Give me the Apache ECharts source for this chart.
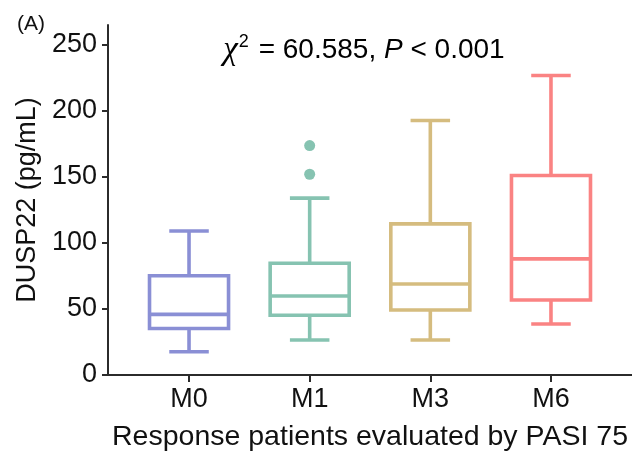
<!DOCTYPE html>
<html>
<head>
<meta charset="utf-8">
<script src="https://cdn.jsdelivr.net/npm/echarts@6/dist/echarts.min.js"></script>
<style>
  html, body { margin: 0; padding: 0; background: #fff; }
  #chart { width: 632px; height: 452px; }
</style>
</head>
<body>
<div id="chart"></div>
<script>
// Box-plot summaries of DUSP22 (pg/mL) per visit
const categories = ['M0', 'M1', 'M3', 'M6'];
const whiskerLow = [17.6, 26.5, 26.5, 38.6];
const q1 = [35.2, 45.2, 49.2, 56.8];
const median = [45.9, 59.8, 68.9, 87.9];
const q3 = [75.2, 84.6, 114.4, 151];
const whiskerHigh = [109, 133.9, 192.7, 226.8];
const outlierCats = ['M1', 'M1'];
const outlierVals = [152, 173.7];
const yTicks = [0, 50, 100, 150, 200, 250];
const boxColors = ['#8a8fd5', '#86c3b1', '#d5bc7f', '#fa8383'];

const FONT = '"Liberation Sans", Arial, sans-serif';
const AXIS_COLOR = '#2b2b2b';
const TEXT_COLOR = '#111';

const boxData = categories.map((c, i) => [i, whiskerLow[i], q1[i], median[i], q3[i], whiskerHigh[i]]);
const outlierData = outlierCats.map((c, i) => [c, outlierVals[i]]);

// Box with half-width whisker caps, positioned through the axis scales
function renderBox(params, api) {
  const idx = api.value(0);
  const band = api.size([1, 0])[0];
  const boxW = band * 0.655;
  const capW = boxW * 0.5;
  const pLow = api.coord([idx, api.value(1)]);
  const pQ1 = api.coord([idx, api.value(2)]);
  const pMed = api.coord([idx, api.value(3)]);
  const pQ3 = api.coord([idx, api.value(4)]);
  const pHigh = api.coord([idx, api.value(5)]);
  const x = pMed[0];
  const lw = 3.6;
  const style = { stroke: boxColors[idx], lineWidth: lw, fill: null };
  const line = (x1, y1, x2, y2) => ({ type: 'line', shape: { x1, y1, x2, y2 }, style });
  return {
    type: 'group',
    children: [
      line(x, pQ3[1], x, pHigh[1]),
      line(x, pQ1[1], x, pLow[1]),
      line(x - capW / 2, pHigh[1], x + capW / 2, pHigh[1]),
      line(x - capW / 2, pLow[1], x + capW / 2, pLow[1]),
      { type: 'rect', shape: { x: x - boxW / 2, y: pQ3[1], width: boxW, height: pQ1[1] - pQ3[1] },
        style: { stroke: boxColors[idx], lineWidth: lw, fill: '#fff' } },
      line(x - boxW / 2, pMed[1], x + boxW / 2, pMed[1])
    ]
  };
}

const chart = echarts.init(document.getElementById('chart'), null, { renderer: 'canvas' });
chart.setOption({
  animation: false,
  backgroundColor: '#fff',
  graphic: [
    { type: 'text', left: 17, top: 14,
      style: { text: '(A)', font: '21px ' + FONT, fill: TEXT_COLOR } },
    { type: 'text', x: 364, y: 50,
      style: {
        text: '{chi|χ}{sup|2}{n| = 60.585, }{p|P}{n| < 0.001}',
        align: 'center', verticalAlign: 'middle',
        rich: {
          chi: { fontFamily: '"Liberation Serif", "Times New Roman", serif', fontStyle: 'italic', fontSize: 33, color: TEXT_COLOR },
          sup: { fontFamily: FONT, fontSize: 18, color: TEXT_COLOR, verticalAlign: 'top', padding: [0, 2, 16, 1] },
          n: { fontFamily: FONT, fontSize: 28, color: TEXT_COLOR },
          p: { fontFamily: FONT, fontStyle: 'italic', fontSize: 28, color: TEXT_COLOR }
        }
      } }
  ],
  grid: [
    { left: 108, right: 0, top: 25, bottom: 77, containLabel: false, outerBoundsMode: 'none' },
    { left: 128.7, right: 20.7, top: 25, bottom: 77, containLabel: false, outerBoundsMode: 'none' }
  ],
  xAxis: [
    { gridIndex: 0, type: 'value', min: 0, max: 1,
      axisLine: { show: true, lineStyle: { color: AXIS_COLOR, width: 2 } },
      axisTick: { show: false }, axisLabel: { show: false }, splitLine: { show: false } },
    { gridIndex: 1, type: 'category', data: categories,
      axisLine: { show: false },
      axisTick: { show: true, alignWithLabel: true, length: 7, lineStyle: { color: AXIS_COLOR, width: 2 } },
      axisLabel: { fontFamily: FONT, fontSize: 27, color: TEXT_COLOR, margin: 11 },
      name: 'Response patients evaluated by PASI 75',
      nameLocation: 'middle', nameGap: 48,
      nameTextStyle: { fontFamily: FONT, fontSize: 28.5, color: TEXT_COLOR },
      splitLine: { show: false } }
  ],
  yAxis: [
    { gridIndex: 0, type: 'value', min: 0, max: 265,
      axisLine: { show: true, lineStyle: { color: AXIS_COLOR, width: 2 } },
      axisTick: { show: true, length: 6, customValues: yTicks, lineStyle: { color: AXIS_COLOR, width: 2 } },
      axisLabel: { customValues: yTicks, fontFamily: FONT, fontSize: 27, color: TEXT_COLOR, margin: 11 },
      splitLine: { show: false },
      name: 'DUSP22 (pg/mL)', nameLocation: 'middle', nameRotate: 90, nameGap: 54,
      nameTextStyle: { fontFamily: FONT, fontSize: 27, color: TEXT_COLOR } },
    { gridIndex: 1, type: 'value', min: 0, max: 265, show: false }
  ],
  series: [
    { type: 'custom', xAxisIndex: 1, yAxisIndex: 1, data: boxData,
      renderItem: renderBox,
      encode: { x: 0, y: [1, 2, 3, 4, 5] }, z: 3 },
    { type: 'scatter', xAxisIndex: 1, yAxisIndex: 1, data: outlierData,
      symbol: 'circle', symbolSize: 11,
      itemStyle: { color: boxColors[1], opacity: 1 }, z: 4 }
  ]
});
</script>
</body>
</html>
